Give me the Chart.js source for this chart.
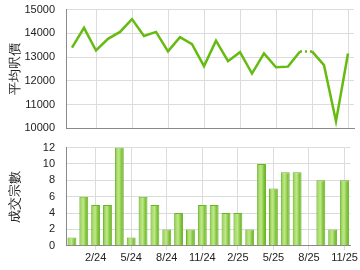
<!DOCTYPE html>
<html>
<head>
<meta charset="utf-8">
<script src="https://cdn.jsdelivr.net/npm/chart.js@4"></script>
<style>
  html, body { margin: 0; padding: 0; background: #fff; }
  #wrap { width: 360px; height: 270px; }
  .box { position: relative; width: 360px; }
</style>
</head>
<body>
<div id="wrap">
  <div class="box" style="height:138px"><canvas id="priceChart"></canvas></div>
  <div class="box" style="height:132px"><canvas id="countChart"></canvas></div>
</div>
<script>
const months = [
  "12/23", "1/24", "2/24", "3/24", "4/24", "5/24", "6/24", "7/24", "8/24", "9/24", "10/24", "11/24",
  "12/24", "1/25", "2/25", "3/25", "4/25", "5/25", "6/25", "7/25", "8/25", "9/25", "10/25", "11/25"
];
const avgPrice = [
  13400, 14230, 13280, 13770, 14060, 14600, 13890, 14060, 13240, 13840, 13550, 12620,
  13690, 12830, 13210, 12310, 13160, 12570, 12600, 13240, 13240, 12660, 10300, 13150
];
const dealCount = [
  1, 6, 5, 5, 12, 1, 6, 5, 2, 4, 2, 5,
  5, 4, 4, 2, 10, 7, 9, 9, 0, 8, 2, 8
];
// month 8/25 had no deals, price carried over (dotted)
const gapIndex = 19;

const fontFamily = "'Liberation Sans', Arial, sans-serif";
const tickColor = "#222";
const gridColor = "#dcdcdc";
const axisColor = "#8a8a8a";

function showGrid(ctx) {
  return ctx.index % 3 === 2 ? gridColor : "rgba(0,0,0,0)";
}

function barGradient(ctx) {
  const chart = ctx.chart;
  const xScale = chart.scales && chart.scales.x;
  if (!xScale || ctx.dataIndex === undefined) return "#8ccb45";
  const cx = xScale.getPixelForValue(ctx.dataIndex);
  if (!isFinite(cx)) return "#8ccb45";
  const half = 4.5;
  const g = chart.ctx.createLinearGradient(cx - half, 0, cx + half, 0);
  g.addColorStop(0, "#5fa81f");
  g.addColorStop(0.22, "#a9dc6a");
  g.addColorStop(0.45, "#bfe88a");
  g.addColorStop(0.7, "#8ccb45");
  g.addColorStop(1, "#5fa81f");
  return g;
}

Chart.defaults.font.family = fontFamily;
Chart.defaults.animation = false;

const yTitle = (text) => ({
  display: true,
  text: text,
  color: "#222",
  font: { size: 13 },
  padding: { top: 8, bottom: 4 },
});

new Chart(document.getElementById("priceChart"), {
  type: "line",
  data: {
    labels: months,
    datasets: [
      {
        data: avgPrice,
        borderColor: "#66bb11",
        borderWidth: 2.5,
        pointRadius: 0,
        tension: 0,
        segment: {
          borderDash: (ctx) => (ctx.p0DataIndex === gapIndex ? [2, 3] : undefined),
        },
      },
    ],
  },
  options: {
    responsive: true,
    maintainAspectRatio: false,
    layout: { padding: { top: 1, right: 6, bottom: 2, left: 0 } },
    plugins: { legend: { display: false }, tooltip: { enabled: false } },
    scales: {
      x: {
        offset: true,
        ticks: { display: false, autoSkip: false },
        grid: { color: showGrid, drawTicks: false, offset: false },
        border: { color: axisColor, width: 1 },
      },
      y: {
        min: 10000,
        max: 15000,
        afterFit: (scale) => { scale.width = 66; },
        ticks: { stepSize: 1000, autoSkip: false, color: tickColor, font: { size: 11 }, padding: 3, callback: (v) => String(v) },
        grid: { color: gridColor, tickLength: 8, tickColor: "rgba(0,0,0,0)" },
        border: { color: axisColor, width: 1 },
        title: yTitle("平均呎價"),
      },
    },
  },
});

new Chart(document.getElementById("countChart"), {
  type: "bar",
  data: {
    labels: months,
    datasets: [
      {
        data: dealCount,
        backgroundColor: barGradient,
        borderColor: "#6bb52a",
        borderWidth: (ctx) => (ctx.raw ? 1 : 0),
        categoryPercentage: 1,
        barPercentage: 0.75,
      },
    ],
  },
  options: {
    responsive: true,
    maintainAspectRatio: false,
    layout: { padding: { top: 0, right: 6, bottom: 3, left: 0 } },
    plugins: { legend: { display: false }, tooltip: { enabled: false } },
    scales: {
      x: {
        ticks: {
          autoSkip: false,
          maxRotation: 0,
          color: tickColor,
          font: { size: 11 },
          padding: 2,
          callback: (value, index) => (index % 3 === 2 ? months[index] : ""),
        },
        grid: { color: showGrid, tickLength: 4, offset: false },
        border: { color: axisColor, width: 1 },
      },
      y: {
        min: 0,
        max: 12,
        afterFit: (scale) => { scale.width = 66; },
        ticks: { stepSize: 2, autoSkip: false, color: tickColor, font: { size: 11 }, padding: 3 },
        grid: { color: gridColor, tickLength: 8, tickColor: "rgba(0,0,0,0)" },
        border: { color: axisColor, width: 1 },
        title: yTitle("成交宗數"),
      },
    },
  },
});
</script>
</body>
</html>
